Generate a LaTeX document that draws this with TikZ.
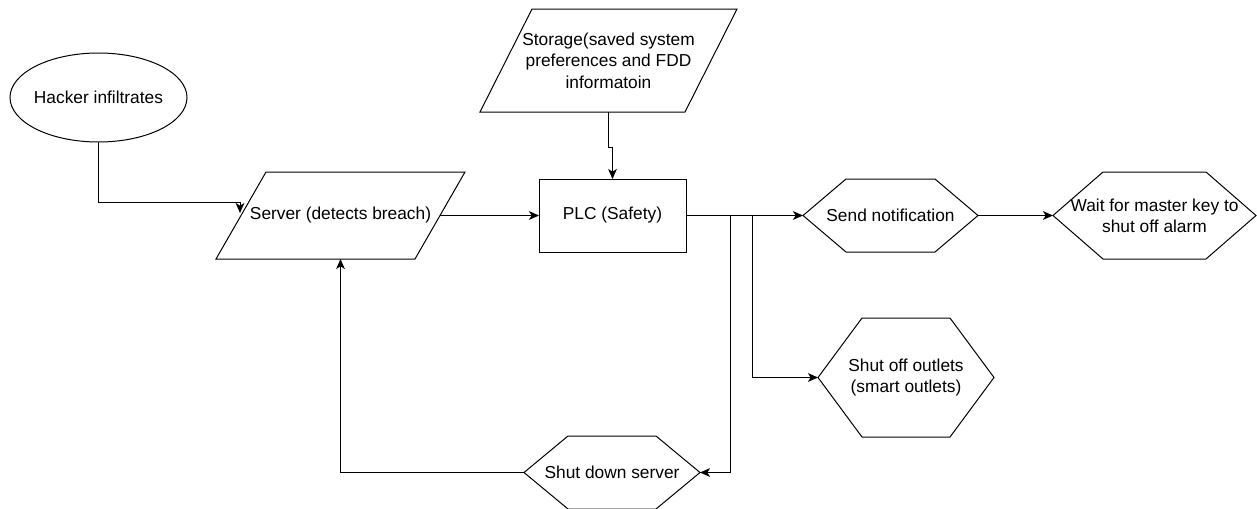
\documentclass[tikz,border=0pt]{standalone}
\usepackage{fontspec}
\setmainfont{Liberation Sans}
\usetikzlibrary{shapes.geometric,arrows.meta}

\tikzset{
  x=0.75pt, y=-0.75pt,
  every node/.style={font=\fontsize{13}{16}\selectfont},
  frame/.style={rectangle, inner sep=0pt, outer sep=0pt, align=center},
  outline/.style={draw, line width=0.75pt, line join=miter},
  flow/.style={draw, line width=0.75pt, -{Stealth[length=7.5pt,width=6.5pt,inset=2pt]}},
}

% hexagon drawn round a rectangular node: #1 node name, #2 depth of the side points
\newcommand\hexpath[2]{\draw[outline] (#1.west) -- ([xshift=#2]#1.north west) -- ([xshift=-#2]#1.north east) -- (#1.east) -- ([xshift=-#2]#1.south east) -- ([xshift=#2]#1.south west) -- cycle;}
% parallelogram leaning right: #1 node name, #2 horizontal slant
\newcommand\slantpath[2]{\draw[outline] (#1.south west) -- ([xshift=#2]#1.north west) -- (#1.north east) -- ([xshift=-#2]#1.south east) -- cycle;}

\begin{document}
\begin{tikzpicture}
\fill[white] (0,0) rectangle (1257,508);
\useasboundingbox (0,0) rectangle (1257,508);

% start event
\node[draw, ellipse, line width=0.75pt, inner sep=0pt, outer sep=0pt,
      minimum width=132.75pt, minimum height=66.75pt,
      label=center:{Hacker infiltrates}] (hack) at (98.5,97.5) {};

% input / data blocks
\node[frame, minimum width=186.75pt, minimum height=65.25pt] (server) at (340.5,215.5) {Server (detects breach)};
\slantpath{server}{37.5pt}

\node[frame, minimum width=192.75pt, minimum height=77.25pt] (storage) at (608.5,60.5)
  {Storage(saved system\\preferences and FDD\\informatoin};
\slantpath{storage}{39pt}

% controller
\node[frame, draw, line width=0.75pt, minimum width=110.25pt, minimum height=54.75pt] (plc) at (612.5,215.5) {PLC (Safety)};

% actions
\node[frame, minimum width=131.25pt, minimum height=54.75pt] (notify) at (890.5,215.5) {Send notification};
\hexpath{notify}{32.25pt}

\node[frame, minimum width=152.25pt, minimum height=65.25pt] (wait) at (1154.5,215.5) {Wait for master key to\\shut off alarm};
\hexpath{wait}{37.5pt}

\node[frame, minimum width=132pt, minimum height=89.25pt] (outlets) at (906,377.5) {Shut off outlets\\(smart outlets)};
\hexpath{outlets}{33pt}

\node[frame, minimum width=132pt, minimum height=54.75pt] (shutdown) at (612,472.5) {Shut down server};
\hexpath{shutdown}{33pt}

% connectors
\coordinate (srv-in) at (240,213);
\draw[flow] (hack.south) -- ++(0,60) -| (srv-in);
\draw[flow] ([xshift=-18.75pt]server.east) -- (plc.west);
\draw[flow] (storage.south) -- ++(0,35) -| (plc.north);
\draw[flow] (plc.east) -- (notify.west);
\draw[flow] (plc.east) -- ++(44,0) |- (shutdown.east);
\draw[flow] (plc.east) -- ++(66,0) |- (outlets.west);
\draw[flow] (notify.east) -- (wait.west);
\draw[flow] (shutdown.west) -| (server.south);
\end{tikzpicture}
\end{document}
